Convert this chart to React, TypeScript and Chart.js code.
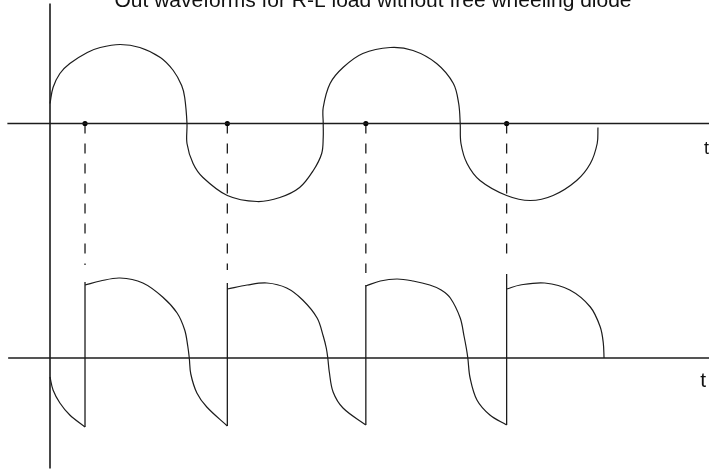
import React, { useEffect, useRef } from "react";
import { Chart, registerables } from "chart.js";

Chart.register(...registerables);

// ---- text ----
const TITLE = "Out waveforms for R-L load without free wheeling diode";
const AXIS_LABEL = "t";

// ---- supply voltage (upper trace): ωt in degrees, v in volts ----
const SUPPLY_T = [0, 4, 13, 26, 49, 66, 92, 118, 145, 162, 173, 177, 180, 180, 188, 201, 233, 272, 302, 328, 346, 357, 359, 359, 359, 368, 385, 411, 447, 477, 508, 530, 537, 539, 540, 548, 565, 600, 631, 661, 692, 710, 719, 720];
const SUPPLY_V = [20, 36, 50, 60, 71, 76, 79, 76, 66, 53, 38, 26, 0, -20, -40, -54, -72, -78, -74, -64, -47, -30, -14, 0, 16, 40, 56, 70, 76, 73, 60, 40, 20, 0, -20, -40, -57, -72, -77, -72, -57, -40, -20, -4];

// ---- output voltage (lower trace), one arc per conduction interval ----
const OUT0_T = [0, 4, 13, 26, 46];
const OUT0_V = [-19, -32, -45, -57, -69];
const OUT1_T = [46, 66, 92, 122, 148, 167, 177, 181, 183, 185, 193, 206, 233];
const OUT1_V = [73, 77, 80, 75, 61, 45, 28, 12, 0, -16, -35, -49, -68];
const OUT2_T = [233, 259, 285, 311, 332, 351, 359, 363, 365, 367, 372, 385, 415];
const OUT2_V = [69, 73, 75, 70, 58, 40, 22, 10, 0, -14, -34, -50, -67];
const OUT3_T = [415, 434, 456, 477, 499, 514, 526, 539, 544, 547, 549, 552, 561, 578, 600];
const OUT3_V = [72, 77, 79, 77, 73, 68, 60, 40, 22, 10, 0, -20, -42, -57, -67];
const OUT4_T = [600, 618, 650, 683, 710, 723, 727, 728];
const OUT4_V = [69, 73, 75, 68, 51, 31, 15, 0];

// ---- firing instants and the jumps of the output ----
const FIRING_T = [46, 233, 415, 600];
const JUMP_BOTTOM = [-69, -68, -67, -67];
const JUMP_TOP = [76, 75, 73, 84];
const DASH_END = [93, 88, 85, 96];

// ---- axes of the drawing ----
const UPPER_AXIS_T = [-56, 870];
const LOWER_AXIS_T = [-55, 870];
const VERTICAL_AXIS_V = [120, -345];

const X_MIN = -65.7;
const X_MAX = 865.9;
const Y_TOP_MIN = -345.5;
const Y_TOP_MAX = 123.5;
const Y_BOT_MIN = -111;
const Y_BOT_MAX = 358;

const INK = "#1c1c1c";

const pts = (t: number[], v: number[]) => t.map((x, i) => ({ x, y: v[i] }));

export default function App() {
  const ref = useRef<HTMLCanvasElement | null>(null);

  useEffect(() => {
    const canvas = ref.current;
    if (!canvas) return;

    const curve = (t: number[], v: number[], axis: string) => ({
      data: pts(t, v),
      yAxisID: axis,
      showLine: true,
      borderColor: INK,
      borderWidth: 1.2,
      pointRadius: 0,
      pointHoverRadius: 0,
      tension: 0.35,
      fill: false,
    });
    const straight = (data: { x: number; y: number }[], axis: string, w = 1.3) => ({
      data,
      yAxisID: axis,
      showLine: true,
      borderColor: INK,
      borderWidth: w,
      pointRadius: 0,
      pointHoverRadius: 0,
      tension: 0,
      fill: false,
    });

    const jumps = FIRING_T.map((t, i) =>
      straight(
        [
          { x: t, y: JUMP_BOTTOM[i] },
          { x: t, y: JUMP_TOP[i] },
        ],
        "yBot"
      )
    );

    const overlay = {
      id: "overlay",
      beforeDatasetsDraw(chart: any) {
        const { ctx, scales } = chart;
        const x = scales.x;
        const yTop = scales.yTop;
        const yBot = scales.yBot;
        ctx.save();
        ctx.strokeStyle = INK;
        ctx.lineWidth = 1.3;
        ctx.setLineDash([10, 10]);
        FIRING_T.forEach((t, i) => {
          const px = x.getPixelForValue(t);
          ctx.beginPath();
          ctx.moveTo(px, yTop.getPixelForValue(0));
          ctx.lineTo(px, yBot.getPixelForValue(DASH_END[i]));
          ctx.stroke();
        });
        ctx.restore();
      },
      afterDraw(chart: any) {
        const { ctx, chartArea, scales } = chart;
        ctx.save();
        ctx.fillStyle = "#111";
        ctx.textBaseline = "alphabetic";
        ctx.textAlign = "center";
        ctx.font = '21px "Liberation Sans", Arial, sans-serif';
        ctx.fillText(TITLE, 373, 7);
        ctx.textAlign = "right";
        ctx.font = '18px "Liberation Sans", Arial, sans-serif';
        ctx.fillText(AXIS_LABEL, chartArea.right, scales.yTop.getPixelForValue(0) + 30);
        ctx.font = '21px "Liberation Sans", Arial, sans-serif';
        ctx.fillText(AXIS_LABEL, chartArea.right - 3, scales.yBot.getPixelForValue(0) + 29);
        ctx.restore();
      },
    };

    const chart = new Chart(canvas, {
      type: "scatter",
      data: {
        datasets: [
          straight(UPPER_AXIS_T.map((x) => ({ x, y: 0 })), "yTop", 1.6),
          straight(LOWER_AXIS_T.map((x) => ({ x, y: 0 })), "yBot", 1.6),
          straight(VERTICAL_AXIS_V.map((y) => ({ x: 0, y })), "yTop", 1.6),
          curve(SUPPLY_T, SUPPLY_V, "yTop"),
          curve(OUT0_T, OUT0_V, "yBot"),
          curve(OUT1_T, OUT1_V, "yBot"),
          curve(OUT2_T, OUT2_V, "yBot"),
          curve(OUT3_T, OUT3_V, "yBot"),
          curve(OUT4_T, OUT4_V, "yBot"),
          ...jumps,
          {
            data: FIRING_T.map((x) => ({ x, y: 0 })),
            yAxisID: "yTop",
            showLine: false,
            pointRadius: 2.6,
            pointHoverRadius: 2.6,
            pointBackgroundColor: "#000",
            pointBorderWidth: 0,
          },
        ] as any,
      },
      options: {
        animation: false,
        responsive: false,
        devicePixelRatio: 1,
        layout: { padding: 0, autoPadding: false },
        plugins: { legend: { display: false }, tooltip: { enabled: false }, title: { display: false } },
        events: [],
        scales: {
          x: { type: "linear", display: false, min: X_MIN, max: X_MAX },
          yTop: { type: "linear", display: false, position: "left", min: Y_TOP_MIN, max: Y_TOP_MAX },
          yBot: { type: "linear", display: false, position: "left", min: Y_BOT_MIN, max: Y_BOT_MAX },
        },
      } as any,
      plugins: [overlay],
    });

    return () => chart.destroy();
  }, []);

  return (
    <div style={{ position: "absolute", left: 0, top: 0, width: 709, height: 469, background: "#fff" }}>
      <canvas ref={ref} width={709} height={469} style={{ display: "block" }} />
    </div>
  );
}
